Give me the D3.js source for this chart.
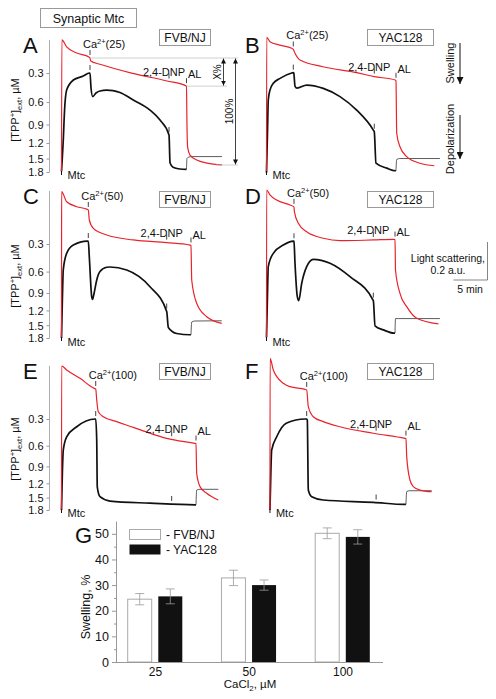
<!DOCTYPE html>
<html><head><meta charset="utf-8">
<script src="https://cdn.jsdelivr.net/npm/d3@7"></script>
<style>body{margin:0;background:#fff} svg{display:block} text{font-family:"Liberation Sans",Arial,sans-serif;fill:#111}</style>
</head><body>
<svg id="c" width="496" height="699"></svg>
<script>
// ---------- DATA (time in min after Mtc column origin; red = light scattering a.u.; black = [TPP+]ext µM) ----------
const redA = [[0,0],[0.05,0.695],[0.76,0.658],[2.24,0.626],[4.04,0.605],[4.19,0.600],[4.3,0.584],[5.66,0.567],[10.5,0.519],[15.5,0.479],[18.38,0.452],[18.45,0.25],[18.55,0.13],[18.9,0.089],[19.9,0.063],[21.4,0.047],[23.6,0.037]];
const blackA = [[0,1.78],[0.26,1.15],[0.45,0.70],[0.76,0.466],[1.74,0.365],[3.2,0.328],[4.09,0.30],[4.19,0.30],[4.34,0.444],[4.59,0.537],[5.07,0.497],[5.66,0.476],[6.65,0.466],[7.57,0.471],[8.6,0.492],[10.56,0.577],[13.01,0.70],[14.49,0.835],[15.81,1.064],[15.96,1.59],[16.4,1.69],[17.43,1.73],[18.38,1.74],[18.45,1.5],[18.7,1.47],[19.2,1.46],[23.6,1.46]];
const redB = [[0,0],[0.03,0.709],[0.51,0.686],[1.99,0.668],[3.71,0.651],[3.94,0.645],[4.19,0.625],[4.93,0.589],[8.3,0.554],[13.26,0.523],[15.85,0.502],[18.94,0.484],[19.04,0.48],[19.15,0.204],[19.63,0.133],[20.62,0.081],[22.57,0.046],[24.68,0.033]];
const blackB = [[0,1.82],[0.15,1.0],[0.26,0.577],[0.51,0.466],[1.0,0.397],[1.99,0.349],[3.71,0.30],[3.94,0.297],[4.01,0.30],[4.19,0.424],[4.49,0.445],[5.91,0.414],[8.35,0.448],[10.81,0.537],[13.26,0.70],[15.71,0.984],[15.85,1.01],[16.1,1.60],[17.68,1.71],[18.94,1.77],[19.04,1.77],[19.15,1.52],[19.6,1.50],[25.5,1.50]];
const redC = [[0,0],[0.02,0.77],[0.76,0.717],[2.24,0.691],[3.79,0.677],[3.94,0.674],[4.09,0.621],[4.68,0.577],[6.65,0.542],[10.56,0.516],[15.47,0.502],[18.9,0.489],[19.04,0.487],[19.15,0.305],[19.88,0.183],[21.35,0.112],[23.56,0.077]];
const blackC = [[0,1.8],[0.13,1.0],[0.26,0.58],[0.76,0.392],[1.74,0.31],[3.79,0.273],[3.94,0.273],[4.09,0.43],[4.44,0.96],[4.56,1.005],[4.8,0.9],[5.18,0.71],[5.66,0.60],[6.65,0.547],[7.13,0.544],[9.59,0.58],[13.01,0.805],[15.47,1.22],[15.71,1.55],[16.94,1.69],[18.9,1.72],[19.04,1.72],[19.15,1.43],[19.6,1.41],[23.56,1.405]];
const redD = [[0,0],[0.02,0.779],[0.51,0.753],[1.5,0.726],[3.46,0.70],[4.04,0.69],[4.1,0.665],[4.68,0.604],[5.91,0.559],[8.35,0.525],[10.81,0.512],[15.71,0.516],[18.75,0.519],[18.9,0.518],[18.97,0.358],[19.63,0.235],[20.62,0.165],[22.09,0.104],[25.28,0.074]];
const blackD = [[0,1.78],[0.13,1.0],[0.26,0.54],[1.0,0.392],[2.47,0.31],[3.94,0.273],[4.04,0.275],[4.19,0.50],[4.53,0.96],[4.74,1.026],[5.18,0.755],[5.91,0.54],[6.88,0.456],[9.34,0.50],[12.28,0.666],[15.71,1.026],[15.96,1.515],[17.18,1.605],[18.75,1.68],[18.9,1.68],[18.97,1.36],[19.4,1.36],[25.5,1.36]];
const redE = [[0,0],[0.02,0.758],[0.76,0.737],[2.72,0.693],[4.82,0.64],[5.03,0.637],[5.18,0.579],[5.41,0.517],[6.15,0.491],[8.12,0.465],[10.56,0.435],[13.01,0.404],[15.47,0.377],[19.63,0.351],[19.78,0.35],[19.88,0.193],[20.37,0.123],[21.35,0.088],[23.06,0.053]];
const blackE = [[0,1.8],[0.13,1.0],[0.26,0.66],[0.76,0.49],[2.24,0.378],[4.93,0.30],[5.03,0.30],[5.18,0.528],[5.26,1.27],[5.66,1.48],[7.13,1.58],[13.01,1.63],[19.63,1.67],[19.78,1.67],[19.88,1.335],[20.37,1.32],[23.06,1.32]];
const redF = [[0.51,0],[0.53,0.798],[1.0,0.737],[2.47,0.667],[3.46,0.649],[5.66,0.635],[5.91,0.632],[6.15,0.544],[6.88,0.491],[8.35,0.465],[10.81,0.438],[15.71,0.404],[20.37,0.377],[20.51,0.376],[20.62,0.281],[21.1,0.158],[21.59,0.123],[22.57,0.105],[24.3,0.096]];
const blackF = [[0.51,1.8],[0.64,1.0],[0.76,0.66],[1.5,0.49],[2.97,0.34],[5.66,0.30],[5.91,0.30],[6.0,0.31],[6.15,1.335],[6.65,1.48],[8.35,1.555],[15.71,1.61],[20.37,1.66],[20.51,1.66],[20.62,1.37],[21.0,1.35],[24.3,1.35]];

const panelLetters = ["A","B","C","D","E","F"];
const strains = ["FVB/NJ","YAC128","FVB/NJ","YAC128","FVB/NJ","YAC128"];
const caDoses = ["25","25","50","50","100","100"];
const mtcTimes = [0,0,0,0,0,0.51];
const caTimes = [4.19,3.94,3.94,4.04,5.03,5.91];
const dnpTimes = [15.81,15.85,15.47,15.71,16.2,16.12];
const alTimes = [18.38,19.04,19.04,18.9,19.78,20.51];
const tppTicks = [0.3,0.6,0.9,1.2,1.5,1.8];

const concentrations = ["25","50","100"];
const fvbMean = [24.5,32.8,50.2];
const fvbErr = [2.2,3.0,2.1];
const yacMean = [25.6,30.0,48.8];
const yacErr = [2.9,2.0,2.8];
const swellingTicks = [0,10,20,30,40,50];
const swellingMinor = [5,15,25,35,45];

// ---------- LAYOUT ----------
const svg = d3.select("#c");
svg.append("rect").attr("width",496).attr("height",699).attr("fill","#fff");
const defs = svg.append("defs");
defs.append("marker").attr("id","ah").attr("viewBox","0 0 10 10").attr("refX",10).attr("refY",5)
  .attr("markerWidth",5).attr("markerHeight",6).attr("markerUnits","userSpaceOnUse").attr("orient","auto-start-reverse")
  .append("path").attr("d","M0,0L10,5L0,10z").attr("fill","#111");
defs.append("marker").attr("id","ahBig").attr("viewBox","0 0 10 10").attr("refX",10).attr("refY",5)
  .attr("markerWidth",9).attr("markerHeight",7).attr("markerUnits","userSpaceOnUse").attr("orient","auto")
  .append("path").attr("d","M0,0L10,5L0,10z").attr("fill","#111");

const FONT = 11;
const colX0 = [61.5, 266.5];
const rows = [
  {y03:73, y18:172, top:40, letterY:53, boxY:29, titleY:110, mtcDy:7},
  {y03:244, y18:338, top:191, letterY:204, boxY:191, titleY:276, mtcDy:8},
  {y03:419, y18:510, top:366, letterY:379, boxY:363, titleY:449, mtcDy:7}
];
const letterX = [23, 245];
const boxX = [[159,210],[367,433]];

const redSets = [redA,redB,redC,redD,redE,redF];
const blackSets = [blackA,blackB,blackC,blackD,blackE,blackF];

function valAt(d,t){
  if(t<=d[0][0]) return d[0][1];
  for(let i=0;i<d.length-1;i++){
    if(t>=d[i][0] && t<=d[i+1][0]){
      const span = d[i+1][0]-d[i][0];
      const f = span ? (t-d[i][0])/span : 0;
      return d[i][1]+f*(d[i+1][1]-d[i][1]);
    }
  }
  return d[d.length-1][1];
}

// title box
svg.append("rect").attr("x",40.5).attr("y",8.5).attr("width",96).attr("height",19).attr("fill","none").attr("stroke","#999").attr("stroke-width",1);
svg.append("text").attr("x",88.5).attr("y",22.5).attr("text-anchor","middle").attr("font-size",12.5).text("Synaptic Mtc");

let scalesA = null;
redSets.forEach((red,i)=>{
  const r = Math.floor(i/2), c = i%2, R = rows[r];
  const black = blackSets[i];
  const xs = d3.scaleLinear().domain([0,5]).range([colX0[c], colX0[c]+34]);
  const ry = d3.scaleLinear().domain([0,0.2]).range([R.y18, R.y18-38]);
  const bl = d3.scaleLog().domain([0.9,2.4]).range([R.y03, R.y18]);
  const by = v => bl(v+0.6);
  if(i===0) scalesA = {xs, ry, by};
  const g = svg.append("g");

  g.append("text").attr("x",letterX[c]).attr("y",R.letterY).attr("font-size",22).text(panelLetters[i]);
  const bx = boxX[c];
  g.append("rect").attr("x",bx[0]+0.5).attr("y",R.boxY+0.5).attr("width",bx[1]-bx[0]).attr("height",16)
    .attr("fill","none").attr("stroke","#999");
  g.append("text").attr("x",(bx[0]+bx[1])/2+0.5).attr("y",R.boxY+12.8).attr("text-anchor","middle").attr("font-size",12).text(strains[i]);

  if(c===0){
    g.append("line").attr("x1",49.5).attr("x2",49.5).attr("y1",R.top).attr("y2",R.y18).attr("stroke","#999").attr("stroke-width",0.8);
    const ax = g.append("g").attr("transform","translate(49.5,0)")
      .call(d3.axisLeft(bl).tickValues(tppTicks.map(v=>v+0.6)).tickFormat(d=>(d-0.6).toFixed(1)).tickSize(3).tickSizeOuter(0));
    ax.select(".domain").remove();
    ax.selectAll("line").attr("stroke","#999");
    ax.selectAll("text").attr("font-size",FONT).attr("font-family","Liberation Sans, Arial, sans-serif").attr("fill","#222").attr("dy","0.35em");
    const t = g.append("text").attr("transform",`translate(19,${R.titleY}) rotate(-90)`).attr("text-anchor","middle").attr("font-size",FONT);
    t.append("tspan").text("[TPP");
    t.append("tspan").attr("dy",-4).attr("font-size",7.5).text("+");
    t.append("tspan").attr("dy",4).text("]");
    t.append("tspan").attr("dy",3).attr("font-size",7.5).text("ext");
    t.append("tspan").attr("dy",-3).text(", \u00b5M");
  }

  const lineR = d3.line().x(d=>xs(d[0])).y(d=>ry(d[1])).curve(d3.curveMonotoneX);
  const lineB = d3.line().x(d=>xs(d[0])).y(d=>by(d[1])).curve(d3.curveMonotoneX);
  const al = alTimes[i];
  g.append("path").attr("d",lineB(black.filter(d=>d[0]<=al))).attr("fill","none").attr("stroke","#111").attr("stroke-width",1.7).attr("stroke-linejoin","round");
  g.append("path").attr("d",lineB(black.filter(d=>d[0]>=al))).attr("fill","none").attr("stroke","#333").attr("stroke-width",0.8);
  g.append("path").attr("d",lineR(red)).attr("fill","none").attr("stroke","#e8232b").attr("stroke-width",1.2).attr("stroke-linejoin","round");

  const tick = (t,y)=> g.append("line").attr("x1",xs(t)).attr("x2",xs(t)).attr("y1",y-8).attr("y2",y-3).attr("stroke","#111").attr("stroke-width",0.8);
  [caTimes[i],dnpTimes[i],al].forEach(t=>tick(t, ry(valAt(red,t))));
  [caTimes[i],dnpTimes[i]].forEach(t=>tick(t, by(valAt(black,t))));

  const ca = caTimes[i];
  const ct = g.append("text").attr("x",xs(ca)-7).attr("y",ry(valAt(red,ca))-10).attr("font-size",FONT);
  ct.append("tspan").text("Ca");
  ct.append("tspan").attr("dy",-4).attr("font-size",7.5).text("2+");
  ct.append("tspan").attr("dy",4).text("("+caDoses[i]+")");
  const dy = ry(valAt(red,dnpTimes[i]))-6;
  g.append("text").attr("x",xs(dnpTimes[i])-5).attr("y",dy).attr("text-anchor","middle").attr("font-size",FONT).text("2,4-DNP");
  g.append("text").attr("x",xs(al)+1.5).attr("y",dy+2).attr("font-size",FONT).text("AL");
  const mx = xs(mtcTimes[i]);
  g.append("line").attr("x1",mx).attr("x2",mx).attr("y1",R.y18-1).attr("y2",R.y18+3).attr("stroke","#111").attr("stroke-width",1);
  g.append("text").attr("x",mx+6).attr("y",R.y18+R.mtcDy).attr("font-size",FONT).text("Mtc");
});

// Panel A annotation: X% and 100%
{
  const {xs, ry} = scalesA;
  const yTopL = ry(valAt(redA, caTimes[0]));
  const yMid = ry(valAt(redA, alTimes[0]));
  const yBot = ry(redA[redA.length-1][1]);
  const gl = svg.append("g").attr("stroke","#bbb").attr("stroke-width",0.7);
  gl.append("line").attr("x1",xs(caTimes[0])).attr("x2",238).attr("y1",yTopL).attr("y2",yTopL);
  gl.append("line").attr("x1",xs(alTimes[0])).attr("x2",227).attr("y1",yMid).attr("y2",yMid);
  gl.append("line").attr("x1",216).attr("x2",238).attr("y1",yBot).attr("y2",yBot);
  svg.append("line").attr("x1",223.5).attr("x2",223.5).attr("y1",yTopL+0.5).attr("y2",yMid-0.5).attr("stroke","#111").attr("stroke-width",0.8)
    .attr("marker-start","url(#ah)").attr("marker-end","url(#ah)");
  svg.append("line").attr("x1",235.5).attr("x2",235.5).attr("y1",yTopL+0.5).attr("y2",yBot-0.5).attr("stroke","#111").attr("stroke-width",0.8)
    .attr("marker-start","url(#ah)").attr("marker-end","url(#ah)");
  svg.append("text").attr("transform",`translate(220.5,${(yTopL+yMid)/2}) rotate(-90)`).attr("text-anchor","middle").attr("font-size",10).text("X%");
  svg.append("text").attr("transform",`translate(233,${(yTopL+yBot)/2}) rotate(-90)`).attr("text-anchor","middle").attr("font-size",10).text("100%");
}

svg.append("text").attr("transform","translate(454,63) rotate(-90)").attr("text-anchor","middle").attr("font-size",FONT).text("Swelling");
svg.append("line").attr("x1",460).attr("x2",460).attr("y1",43).attr("y2",84).attr("stroke","#111").attr("stroke-width",1).attr("marker-end","url(#ahBig)");
svg.append("text").attr("transform","translate(454,139) rotate(-90)").attr("text-anchor","middle").attr("font-size",FONT).text("Depolarization");
svg.append("line").attr("x1",460).attr("x2",460).attr("y1",115).attr("y2",159).attr("stroke","#111").attr("stroke-width",1).attr("marker-end","url(#ahBig)");

{
  const ryD = d3.scaleLinear().domain([0,0.2]).range([280,242]);
  const xsD = d3.scaleLinear().domain([0,5]).range([453.5,487.5]);
  svg.append("line").attr("x1",487.5).attr("x2",487.5).attr("y1",ryD(0.2)).attr("y2",ryD(0)).attr("stroke","#666").attr("stroke-width",0.8);
  svg.append("line").attr("x1",xsD(0)).attr("x2",xsD(5)).attr("y1",280).attr("y2",280).attr("stroke","#666").attr("stroke-width",0.8);
  svg.append("text").attr("x",485).attr("y",262).attr("text-anchor","end").attr("font-size",10.5).text("Light scattering,");
  svg.append("text").attr("x",448).attr("y",274).attr("text-anchor","middle").attr("font-size",10.5).text("0.2 a.u.");
  svg.append("text").attr("x",470).attr("y",293).attr("text-anchor","middle").attr("font-size",10.5).text("5 min");
}

// ---------- Panel G ----------
{
  const y = d3.scaleLinear().domain([0,55]).range([662,521]);
  const x = d3.scalePoint().domain(concentrations).range([155,342.5]);
  const g = svg.append("g");
  const bw = 24;
  concentrations.forEach((cc,i)=>{
    const cx = x(cc);
    g.append("rect").attr("x",cx-27.3).attr("y",y(fvbMean[i])).attr("width",bw).attr("height",y(0)-y(fvbMean[i]))
      .attr("fill","#fff").attr("stroke","#aaa").attr("stroke-width",1);
    g.append("rect").attr("x",cx+3.3).attr("y",y(yacMean[i])).attr("width",bw).attr("height",y(0)-y(yacMean[i]))
      .attr("fill","#111");
    const eb = (xc,m,e)=>{
      g.append("line").attr("x1",xc).attr("x2",xc).attr("y1",y(m+e)).attr("y2",y(m-e)).attr("stroke","#999").attr("stroke-width",0.8);
      [m+e,m-e].forEach(v=>g.append("line").attr("x1",xc-4.5).attr("x2",xc+4.5).attr("y1",y(v)).attr("y2",y(v)).attr("stroke","#999").attr("stroke-width",0.8));
    };
    eb(cx-27.3+bw/2, fvbMean[i], fvbErr[i]);
    eb(cx+3.3+bw/2, yacMean[i], yacErr[i]);
  });
  const ay = g.append("g").attr("transform","translate(116,0)")
    .call(d3.axisLeft(y).tickValues(swellingTicks).tickSize(4).tickSizeOuter(0));
  ay.select(".domain").attr("stroke","#999");
  ay.selectAll("line").attr("stroke","#999");
  ay.selectAll("text").attr("font-size",12.5).attr("font-family","Liberation Sans, Arial, sans-serif").attr("fill","#222");
  const am = g.append("g").attr("transform","translate(116,0)")
    .call(d3.axisLeft(y).tickValues(swellingMinor).tickSize(2).tickFormat(""));
  am.select(".domain").remove();
  am.selectAll("line").attr("stroke","#999");
  g.append("line").attr("x1",116).attr("x2",383).attr("y1",662.5).attr("y2",662.5).attr("stroke","#999").attr("stroke-width",1);
  const axb = g.append("g").attr("transform","translate(0,662)").call(d3.axisBottom(x).tickSize(0).tickPadding(5));
  axb.select(".domain").remove();
  axb.selectAll("text").attr("font-size",12).attr("font-family","Liberation Sans, Arial, sans-serif").attr("fill","#222");
  svg.append("text").attr("x",75).attr("y",543).attr("font-size",22).text("G");
  svg.append("text").attr("transform","translate(90,607) rotate(-90)").attr("text-anchor","middle").attr("font-size",12.5).text("Swelling, %");
  const xt = svg.append("text").attr("x",250).attr("y",688).attr("text-anchor","middle").attr("font-size",11.5);
  xt.append("tspan").text("CaCl");
  xt.append("tspan").attr("dy",3).attr("font-size",8).text("2");
  xt.append("tspan").attr("dy",-3).text(", \u00b5M");
  g.append("rect").attr("x",129.5).attr("y",529.5).attr("width",31).attr("height",10).attr("fill","#fff").attr("stroke","#aaa");
  g.append("rect").attr("x",129.5).attr("y",544.5).attr("width",31).attr("height",10).attr("fill","#111");
  g.append("text").attr("x",166).attr("y",538.5).attr("font-size",12).text("- FVB/NJ");
  g.append("text").attr("x",166).attr("y",553.5).attr("font-size",12).text("- YAC128");
}
</script>
</body></html>
